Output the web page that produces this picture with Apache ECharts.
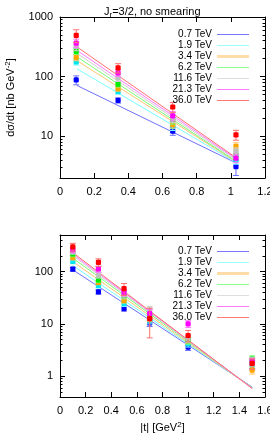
<!DOCTYPE html>
<html><head><meta charset="utf-8">
<script src="https://cdn.jsdelivr.net/npm/echarts@6/dist/echarts.min.js"></script>
<style>html,body{margin:0;padding:0;background:#fff}#c{width:270px;height:433px}</style>
</head><body><div id="c"></div>
<script>
// ---- data ----
const energies = ['0.7 TeV', '1.9 TeV', '3.4 TeV', '6.2 TeV', '11.6 TeV', '21.3 TeV', '36.0 TeV'];
const pointColors = ['#0000ff', '#00e5ee', '#ffa500', '#00ee00', '#c0c0c0', '#ff00ff', '#ff0000'];
const lineColors = ['#6f6fff', '#77ffff', '#ffc56a', '#77ff77', '#d0d0d0', '#ff77ff', '#ff6f6f'];
const legendColors = ['#7777ff', '#99ffff', '#ffdca8', '#88ff88', '#dddddd', '#ff77ff', '#ff7777'];
const legendWidths = [1, 1, 3, 1, 1, 1, 1];

// top panel
const tTop = [0.095, 0.34, 0.66, 1.03];
const topValues = [
  [88, 40, 12.2, 3.1],
  [176, 56, 14.5, 4.0],
  [210, 63, 15.7, 6.8],
  [266, 75, 18.5, 4.9],
  [322, 95, 20, 5.6],
  [366, 116, 22, 4.3],
  [491, 140, 31, 10.6]
];
const topErrors = [
  [15, 4, 1.8, 0.9],
  [20, 5, 2, 0.6],
  [25, 6, 2, 1.0],
  [30, 8, 2.5, 0.8],
  [50, 12, 3, 0.8],
  [60, 15, 4, 0.7],
  [120, 25, 6, 2.0]
];
const topFitT = [0.1, 1.02];
const topFitStart = [71, 135, 185, 214, 245, 275, 314];
const topFitEnd = [3.7, 3.8, 3.9, 4.0, 4.2, 4.4, 4.6];
const topYLabels = [10, 100, 1000];
const topYMinor = [2,3,4,5,6,7,8,9,20,30,40,50,60,70,80,90,200,300,400,500,600,700,800,900];

// bottom panel
const tBottom = [0.1, 0.3, 0.5, 0.7, 1.0, 1.5];
const bottomValues = [
  [111, 41, 19.5, 10.4, 3.6, 1.7],
  [156, 54, 24.5, 11.5, 4.2, 1.6],
  [186, 62, 28, 13, 5.0, 1.3],
  [217, 69, 34, 14.5, 4.8, 2.15],
  [245, 85, 36, 18.5, 5.2, 2.0],
  [262, 112, 40, 15.7, 10, 1.9],
  [296, 150, 47, 12.6, 6.0, 1.75]
];
const bottomErrors = [
  [10, 4, 2, 1.5, 0.5, 0.3],
  [15, 5, 3, 1.5, 0.6, 0.3],
  [20, 6, 3, 2, 0.8, 0.2],
  [25, 7, 4, 2, 0.7, 0.3],
  [30, 10, 5, 3, 0.8, 0.3],
  [35, 15, 6, 3, 1.5, 0.3],
  [50, 25, 12, 7.2, 1.5, 0.4]
];
const bottomFitT = [0.1, 1.5];
const bottomFitStart = [108, 130, 155, 180, 200, 215, 230];
const bottomFitEnd = [0.62, 0.61, 0.6, 0.6, 0.59, 0.59, 0.58];
const bottomYLabels = [1, 10, 100];
const bottomYMinor = [0.4,0.5,0.6,0.7,0.8,0.9,2,3,4,5,6,7,8,9,20,30,40,50,60,70,80,90,200,300,400,500];

// ---- chart ----
const FONT = 'Liberation Sans';
const chart = echarts.init(document.getElementById('c'), null, {renderer: 'canvas'});

function xAxes(gridIndex, max, withLabels, name) {
  const base = {
    gridIndex, type: 'value', min: 0, max, interval: 0.2,
    axisLine: {show: true, lineStyle: {color: '#000', width: 1}},
    axisTick: {show: true, inside: true, length: 5, lineStyle: {color: '#000'}},
    splitLine: {show: false}
  };
  const bottom = Object.assign({}, base, {
    position: 'bottom',
    axisLabel: {show: withLabels, color: '#000', fontSize: 11, fontFamily: FONT, margin: 8},
  });
  if (name) {
    Object.assign(bottom, {
      name, nameLocation: 'middle', nameGap: 24,
      nameTextStyle: {color: '#000', fontSize: 11, fontFamily: FONT,
        rich: {sup: {fontSize: 8, fontFamily: FONT, color: '#000', padding: [0, 0, 6, 0]}}}
    });
  }
  const top = Object.assign({}, base, {position: 'top', axisLabel: {show: false}});
  return [bottom, top];
}

function yAxes(gridIndex, min, max, labels, minor, name) {
  const base = {
    gridIndex, type: 'log', logBase: 10, min, max,
    splitLine: {show: false}, minorTick: {show: false}
  };
  const mainLeft = Object.assign({}, base, {
    position: 'left',
    axisLine: {show: true, lineStyle: {color: '#000', width: 1}},
    axisTick: {show: true, inside: true, length: 5, customValues: labels, lineStyle: {color: '#000'}},
    axisLabel: {show: true, customValues: labels, color: '#000', fontSize: 11, fontFamily: FONT, margin: 7,
      formatter: v => String(v)}
  });
  if (name) {
    Object.assign(mainLeft, {
      name, nameLocation: 'middle', nameRotate: 90, nameGap: 42,
      nameTextStyle: {color: '#000', fontSize: 11, fontFamily: FONT,
        rich: {sup: {fontSize: 8, fontFamily: FONT, color: '#000', padding: [0, 0, 6, 0]}}}
    });
  }
  const minorLeft = Object.assign({}, base, {
    position: 'left',
    axisLine: {show: false},
    axisTick: {show: true, inside: true, length: 2.5, customValues: minor, lineStyle: {color: '#000'}},
    axisLabel: {show: false}
  });
  const mainRight = Object.assign({}, base, {
    position: 'right',
    axisLine: {show: true, lineStyle: {color: '#000', width: 1}},
    axisTick: {show: true, inside: true, length: 5, customValues: labels, lineStyle: {color: '#000'}},
    axisLabel: {show: false}
  });
  const minorRight = Object.assign({}, minorLeft, {position: 'right'});
  return [mainLeft, minorLeft, mainRight, minorRight];
}

function errRenderer(i) {
  return function (params, api) {
    const x = api.value(0), y = api.value(1), lo = api.value(2), hi = api.value(3);
    const p = api.coord([x, y]), a = api.coord([x, lo]), b = api.coord([x, hi]);
    const cw = 3, r = 2.6;
    const ls = {stroke: lineColors[i], lineWidth: 1};
    return {type: 'group', children: [
      {type: 'line', shape: {x1: a[0], y1: a[1], x2: b[0], y2: b[1]}, style: ls},
      {type: 'line', shape: {x1: a[0] - cw, y1: a[1], x2: a[0] + cw, y2: a[1]}, style: ls},
      {type: 'line', shape: {x1: b[0] - cw, y1: b[1], x2: b[0] + cw, y2: b[1]}, style: ls},
      {type: 'rect', shape: {x: p[0] - r, y: p[1] - r, width: 2 * r, height: 2 * r, r: 1.2}, style: {fill: pointColors[i]}}
    ]};
  };
}

const series = [];
function addPanel(xIdx, yIdx, tArr, vals, errs, fitT, fitS, fitE) {
  energies.forEach((name, i) => {
    series.push({
      type: 'line', name, xAxisIndex: xIdx, yAxisIndex: yIdx,
      data: [[fitT[0], fitS[i]], [fitT[1], fitE[i]]],
      symbol: 'none', silent: true, z: 2,
      lineStyle: {color: lineColors[i], width: 1},
      itemStyle: {color: lineColors[i]}
    });
  });
  energies.forEach((name, i) => {
    series.push({
      type: 'custom', name, xAxisIndex: xIdx, yAxisIndex: yIdx, z: 3,
      renderItem: errRenderer(i),
      encode: {x: 0, y: [1, 2, 3]},
      data: vals[i].map((v, j) => [tArr[j], v, v - errs[i][j], v + errs[i][j]])
    });
  });
}
addPanel(0, 0, tTop, topValues, topErrors, topFitT, topFitStart, topFitEnd);
addPanel(2, 4, tBottom, bottomValues, bottomErrors, bottomFitT, bottomFitStart, bottomFitEnd);

function legendCfg(top) {
  return {
    orient: 'vertical', right: 16, top, align: 'right',
    itemWidth: 32, itemHeight: 11, itemGap: 0,
    textStyle: {fontSize: 10, fontFamily: FONT, color: '#000', lineHeight: 11},
    data: energies.map((name, i) => ({
      name, icon: 'path://M0,0L32,0L32,' + legendWidths[i] + 'L0,' + legendWidths[i] + 'Z',
      itemStyle: {color: legendColors[i]}
    })),
    itemStyle: {borderWidth: 0},
    selectedMode: false
  };
}

chart.setOption({
  animation: false,
  backgroundColor: '#fff',
  title: {
    text: 'J{sub|r}=3/2, no smearing', left: 99, top: 0,
    textStyle: {fontSize: 11, fontWeight: 'normal', fontFamily: FONT, color: '#000',
      rich: {sub: {fontSize: 8, fontFamily: FONT, color: '#000', padding: [6, 0, 0, 0]}}}
  },
  legend: [legendCfg(24), legendCfg(241)],
  grid: [
    {left: 60, top: 17, width: 205, height: 161, outerBoundsMode: 'none'},
    {left: 60, top: 235, width: 205, height: 162, outerBoundsMode: 'none'}
  ],
  xAxis: [
    ...xAxes(0, 1.2, true, null),
    ...xAxes(1, 1.6, true, '|t| [GeV{sup|2}]')
  ],
  yAxis: [
    ...yAxes(0, 2, 1000, topYLabels, topYMinor, 'dσ/dt [nb GeV{sup|-2}]'),
    ...yAxes(1, 0.4, 500, bottomYLabels, bottomYMinor, null)
  ],
  series
});
</script></body></html>
